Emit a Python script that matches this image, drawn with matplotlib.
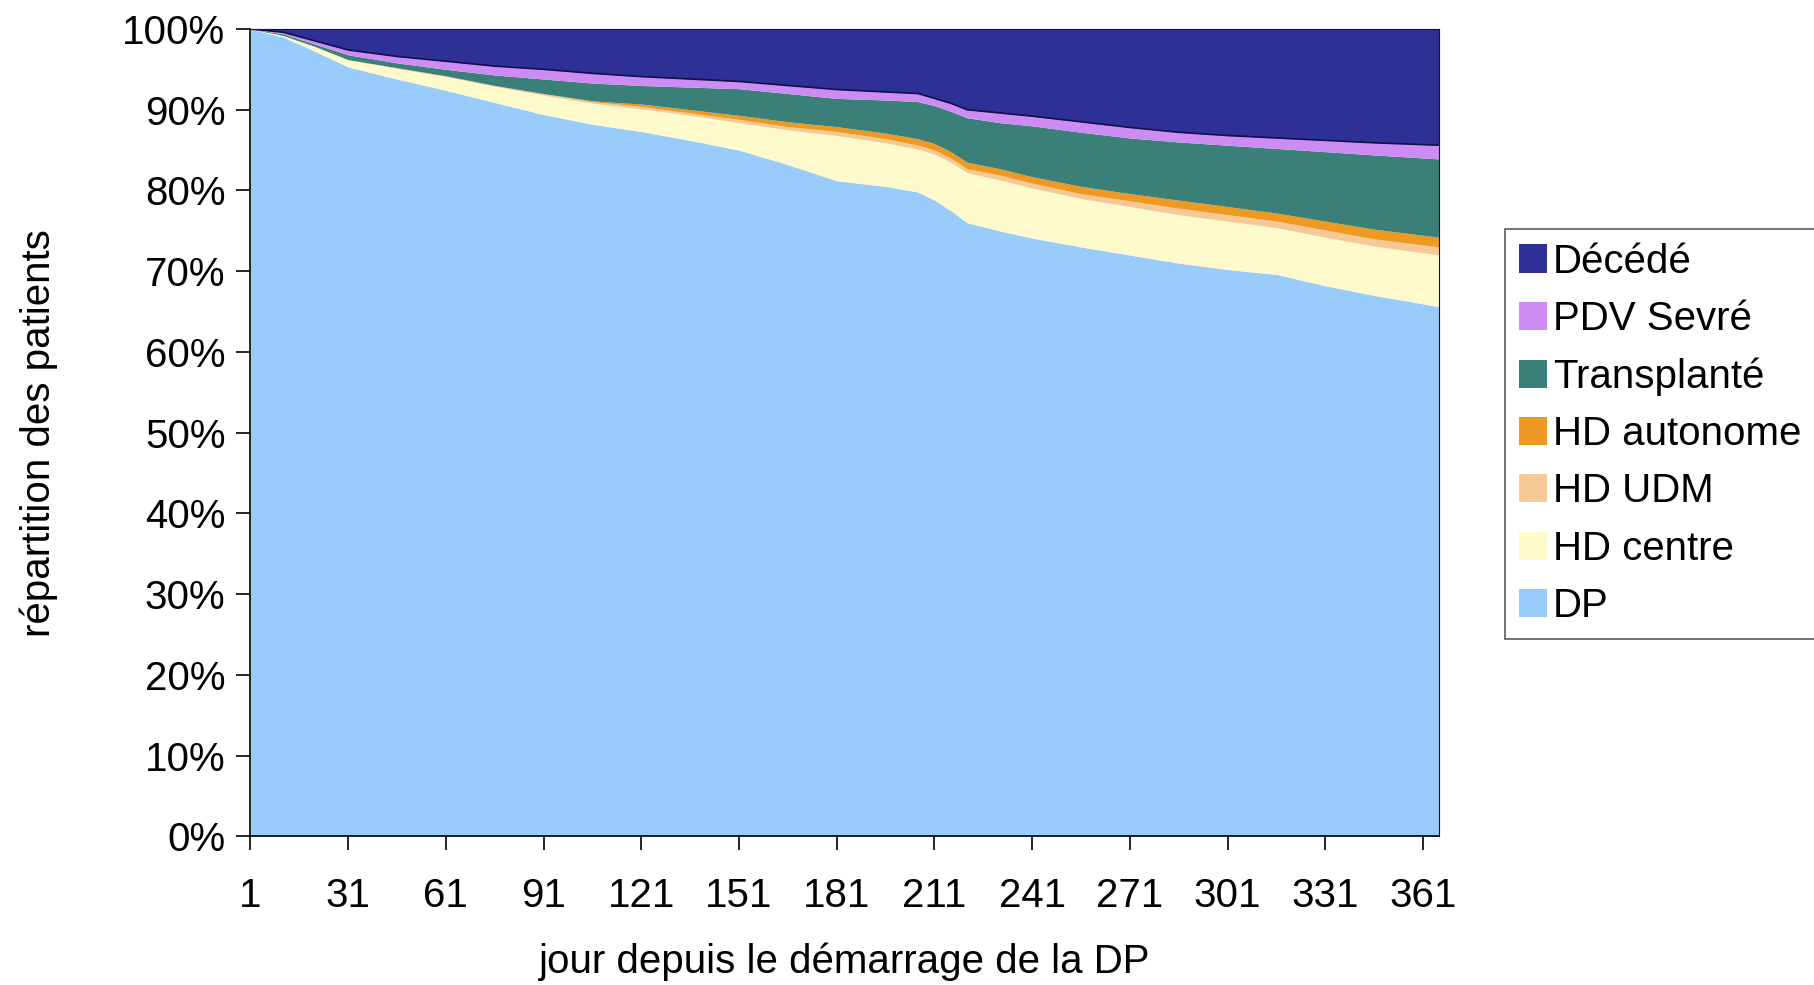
import matplotlib
matplotlib.use("Agg")
import matplotlib.pyplot as plt
import numpy as np
from matplotlib.patches import Patch

plt.rcParams['font.family'] = ['Liberation Sans', 'DejaVu Sans']

# days since start of DP
days = [1, 11, 21, 31, 46, 61, 76, 91, 106, 121, 136, 151, 166, 181, 196,
        206, 211, 216, 221, 231, 241, 256, 271, 286, 301, 316, 331, 346, 366]

# upper edge (cumulative %) of each layer, bottom to top
dp_top = [100, 99.0, 97.2, 95.3, 93.8, 92.4, 90.9, 89.4, 88.2, 87.3, 86.2, 85.0, 83.2, 81.2, 80.5,
          79.8, 78.8, 77.5, 76.0, 75.0, 74.1, 73.0, 72.0, 71.0, 70.2, 69.6, 68.2, 67.0, 65.6]
centre_top = [100, 99.2, 97.8, 96.2, 95.1, 94.1, 92.9, 91.8, 90.8, 90.1, 89.3, 88.4, 87.5, 86.8, 85.9,
              85.1, 84.5, 83.5, 82.2, 81.3, 80.3, 79.0, 78.0, 77.0, 76.2, 75.4, 74.2, 73.1, 72.0]
udm_top = [100, 99.2, 97.8, 96.2, 95.2, 94.2, 93.0, 92.0, 91.0, 90.4, 89.6, 88.8, 87.9, 87.3, 86.4,
           85.6, 85.0, 84.0, 82.7, 81.9, 80.9, 79.6, 78.7, 77.8, 77.0, 76.2, 75.1, 74.0, 73.0]
auto_top = [100, 99.2, 97.8, 96.2, 95.2, 94.2, 93.0, 92.0, 91.1, 90.7, 90.0, 89.3, 88.5, 87.9, 87.1,
            86.4, 85.8, 84.8, 83.5, 82.7, 81.7, 80.5, 79.6, 78.8, 78.0, 77.2, 76.2, 75.2, 74.2]
transp_top = [100, 99.4, 98.1, 96.8, 95.8, 95.0, 94.3, 93.8, 93.3, 93.0, 92.8, 92.6, 92.0, 91.4, 91.2,
              91.0, 90.5, 89.8, 89.0, 88.4, 88.0, 87.2, 86.5, 86.0, 85.6, 85.2, 84.8, 84.4, 83.9]
pdv_top = [100, 99.6, 98.5, 97.4, 96.6, 96.0, 95.4, 95.0, 94.5, 94.1, 93.8, 93.5, 93.0, 92.5, 92.2,
           92.0, 91.4, 90.8, 90.0, 89.6, 89.2, 88.5, 87.8, 87.2, 86.8, 86.5, 86.2, 85.9, 85.6]
deces_top = [100] * len(days)

labels = ["DP", "HD centre", "HD UDM", "HD autonome", "Transplanté", "PDV Sevré", "Décédé"]
colors = ["#99CCFA", "#FFFACC", "#F6C896", "#EE9A22", "#3A8078", "#CC8CF2", "#2E3096"]
tops = [dp_top, centre_top, udm_top, auto_top, transp_top, pdv_top, deces_top]

fig = plt.figure(figsize=(18.15, 9.85), dpi=100)
ax = fig.add_axes([0.138, 0.151, 0.655, 0.8196])

lower = np.zeros(len(days))
for top, c in zip(tops, colors):
    top = np.array(top, dtype=float)
    ax.fill_between(days, lower, top, color=c, linewidth=0)
    lower = top
ax.plot(days, pdv_top, color="#10104a", linewidth=1.2)

ax.set_xlim(1, 366)
ax.set_ylim(0, 100)
ax.set_xticks(range(1, 362, 30))
ax.set_yticks(range(0, 101, 10))
ax.set_yticklabels([f"{v}%" for v in range(0, 101, 10)])
ax.tick_params(labelsize=29, length=10, width=1.2, direction="out", pad=8)
ax.tick_params(axis="x", pad=19)

for s in ["left", "bottom"]:
    ax.spines[s].set_linewidth(1.2)
ax.spines["top"].set_color("#10104a")
ax.spines["right"].set_color("#10104a")

ax.set_xlabel("jour depuis le démarrage de la DP", fontsize=29, labelpad=20)
ax.set_ylabel("répartition des patients", fontsize=29, labelpad=46)

handles = [Patch(facecolor=c, edgecolor="none") for c in colors][::-1]
leg = fig.legend(handles, labels[::-1], loc="upper left", bbox_to_anchor=(0.829, 0.768),
                 fontsize=29, frameon=True, fancybox=False, edgecolor="#333333",
                 handlelength=0.7, handleheight=0.7, handletextpad=0.15,
                 labelspacing=0.48, borderpad=0.35, borderaxespad=0)
leg.get_frame().set_linewidth(1.2)

fig.savefig("out.png", dpi=100)
